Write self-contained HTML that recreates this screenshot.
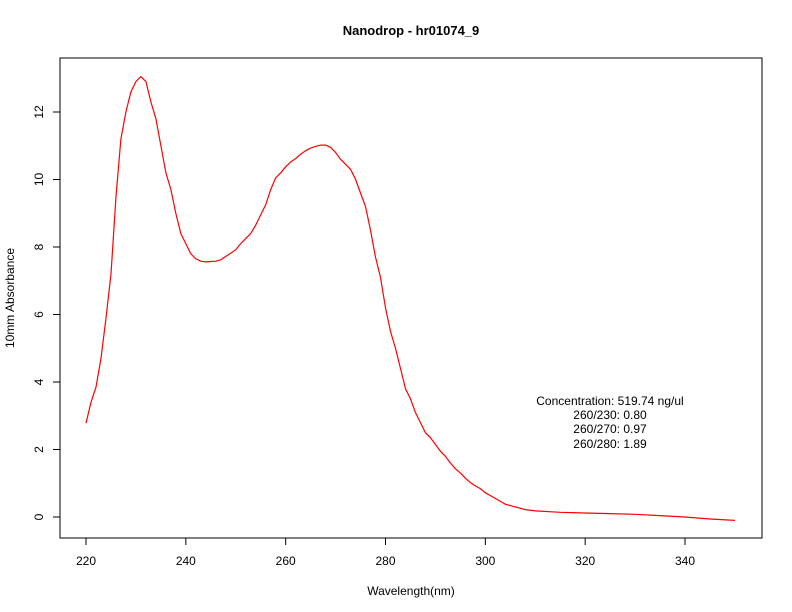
<!DOCTYPE html>
<html><head><meta charset="utf-8"><style>
html,body{margin:0;padding:0;background:#fff;}
svg{display:block;font-family:"Liberation Sans",sans-serif;}
</style></head><body>
<svg id="chart" width="792" height="612" viewBox="0 0 792 612">
<text x="411" y="35" text-anchor="middle" font-size="13" font-weight="bold">Nanodrop - hr01074_9</text>
<rect x="60" y="58" width="702" height="480" fill="none" stroke="#000" stroke-width="1"/>
<g id="xaxis"></g>
<g id="yaxis"></g>
<text x="411" y="595" text-anchor="middle" font-size="12">Wavelength(nm)</text>
<text transform="translate(14,298) rotate(-90)" text-anchor="middle" font-size="12">10mm Absorbance</text>
<g id="series"></g>
<g font-size="12" text-anchor="middle">
<text x="610" y="405">Concentration: 519.74 ng/ul</text>
<text x="610" y="419">260/230: 0.80</text>
<text x="610" y="433">260/270: 0.97</text>
<text x="610" y="448">260/280: 1.89</text>
</g>
</svg>
<script>
const wavelengths = [220,221,222,223,224,225,226,227,228,229,230,231,232,233,234,235,236,237,238,239,240,241,242,243,244,245,246,247,248,249,250,251,252,253,254,255,256,257,258,259,260,261,262,263,264,265,266,267,268,269,270,271,272,273,274,275,276,277,278,279,280,281,282,283,284,285,286,287,288,289,290,291,292,293,294,295,296,297,298,299,300,302,304,306,308,310,315,320,325,330,335,340,345,350];
const absorbance = [2.78,3.4,3.85,4.7,5.9,7.2,9.5,11.2,12.0,12.6,12.9,13.05,12.9,12.3,11.8,11.0,10.2,9.7,9.0,8.4,8.1,7.8,7.65,7.58,7.56,7.57,7.58,7.62,7.72,7.82,7.92,8.1,8.25,8.4,8.65,8.95,9.25,9.7,10.05,10.2,10.38,10.52,10.62,10.75,10.85,10.93,10.98,11.02,11.02,10.95,10.8,10.6,10.45,10.3,10.0,9.6,9.2,8.5,7.7,7.1,6.2,5.5,5.0,4.4,3.8,3.5,3.1,2.8,2.5,2.35,2.15,1.95,1.8,1.6,1.43,1.3,1.15,1.02,0.92,0.84,0.72,0.55,0.38,0.3,0.22,0.18,0.14,0.12,0.1,0.08,0.04,0.0,-0.06,-0.1];
const xTicks = [220,240,260,280,300,320,340];
const yTicks = [0,2,4,6,8,10,12];

const NS = "http://www.w3.org/2000/svg";
function sx(v){ return 86 + (v-220)*599/120; }
function sy(v){ return 517 - v*405/12; }
function mk(tag, attrs, parent){ const e=document.createElementNS(NS,tag); for(const k in attrs) e.setAttribute(k,attrs[k]); parent.appendChild(e); return e; }

const xg=document.getElementById('xaxis');
const xl=mk('line',{x1:sx(xTicks[0]),x2:sx(xTicks[xTicks.length-1]),y1:538,y2:538,stroke:'#000'},xg);


xTicks.forEach(t=>{
  const tk=mk('line',{x1:sx(t),x2:sx(t),y1:538,y2:545,stroke:'#000'},xg);
  
  
  const tx=mk('text',{x:sx(t),y:565,'text-anchor':'middle','font-size':12},xg);
  tx.textContent=t;
  
  
});
const yg=document.getElementById('yaxis');
const yl=mk('line',{x1:60,x2:60,y1:sy(yTicks[0]),y2:sy(yTicks[yTicks.length-1]),stroke:'#000'},yg);


yTicks.forEach(t=>{
  const tk=mk('line',{x1:53,x2:60,y1:sy(t),y2:sy(t),stroke:'#000'},yg);
  
  
  const tx=mk('text',{transform:`translate(43,${sy(t)}) rotate(-90)`,'text-anchor':'middle','font-size':12},yg);
  tx.textContent=t;
  
  
});
const sg=document.getElementById('series');
const pts=wavelengths.map((w,i)=>sx(w).toFixed(1)+','+sy(absorbance[i]).toFixed(1)).join(' ');
const pl=mk('polyline',{points:pts,fill:'none',stroke:'#ff0000','stroke-width':1.2},sg);


</script>
</body></html>
